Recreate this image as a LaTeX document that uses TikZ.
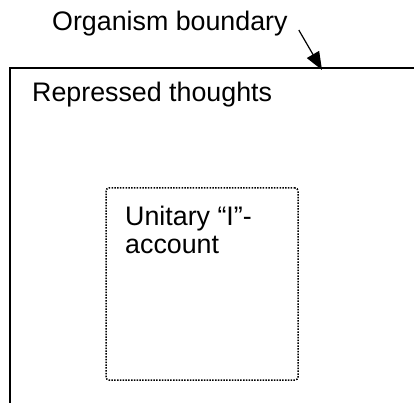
\documentclass[tikz,border=0pt]{standalone}
\usepackage{fontspec}
\setmainfont{Liberation Sans}
\usetikzlibrary{arrows.meta,positioning}

\begin{document}
\begin{tikzpicture}[x=1pt,y=-1pt,
        txt/.style={font=\fontsize{26.8}{28}\selectfont,inner sep=0pt,anchor=base west},
        innerbox/.style={draw,line width=1.5pt,dash pattern=on 1.5pt off 1.3pt,
            rounded corners=3pt,minimum width=192pt,minimum height=192pt}]
        \useasboundingbox (0,0) rectangle (414,403);
        \clip (0,0) rectangle (414,403);
        % organism boundary, running off the page
        \draw[line width=2pt] (10,440) -- (10,68.5) -- (440,68.5);
        \coordinate (hit) at (322,70);
        \node[txt] (rep) at (32,102) {Repressed thoughts};
        % the unitary account
        \node[innerbox] (iacct) at (202,284) {};
        \node[txt,align=left] (iacctlbl) at (125,253) {Unitary “I”-\\account};
        % label and its arrow
        \node[txt] (orglbl) at (52,31) {Organism boundary};
        \draw[-{Triangle[length=18pt,width=14pt]},line width=1.2pt]
            ([shift={(11,-1)}]orglbl.base east) -- (hit);
    \end{tikzpicture}
\end{document}
